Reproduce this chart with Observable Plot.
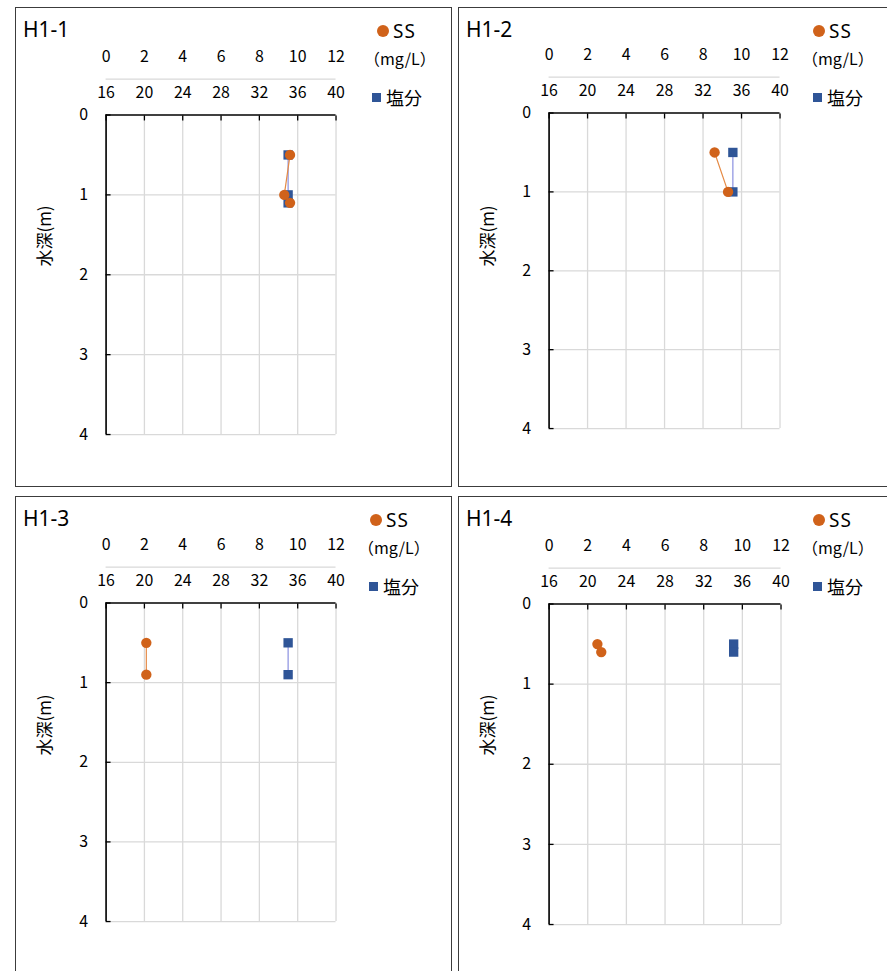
<!DOCTYPE html>
<html>
<head>
<meta charset="utf-8">
<script src="https://cdn.jsdelivr.net/npm/d3@7"></script>
<script src="https://cdn.jsdelivr.net/npm/@observablehq/plot@0.6"></script>
<style>
  body { margin: 0; background: #fff; }
  #root { position: relative; width: 887px; height: 971px; overflow: hidden; background: #fff;
          font-family: "Noto Sans CJK JP", "Noto Sans", sans-serif; color: #000; }
  .panel { position: absolute; width: 437px; height: 480px; box-sizing: border-box;
           border: 1px solid #3c3c3c; background: #fff; }
  .layer { position: absolute; left: -1px; top: -1px; }
  .abs { position: absolute; white-space: nowrap; }
</style>
</head>
<body>
<div id="root"></div>
<script>
// ---------- data ----------
const panelNames = ["H1-1", "H1-2", "H1-3", "H1-4"];

const depth1 = [0.5, 1.0, 1.1];
const ss1    = [9.6, 9.3, 9.6];
const sal1   = [35.0, 35.0, 35.0];

const depth2 = [0.5, 1.0];
const ss2    = [8.6, 9.3];
const sal2   = [35.1, 35.1];

const depth3 = [0.5, 0.9];
const ss3    = [2.1, 2.1];
const sal3   = [35.0, 35.0];

const depth4 = [0.5, 0.6];
const ss4    = [2.5, 2.7];
const sal4   = [35.1, 35.1];

const ssTicks    = [0, 2, 4, 6, 8, 10, 12];
const salTicks   = [16, 20, 24, 28, 32, 36, 40];
const depthTicks = [0, 1, 2, 3, 4];

const yLabel   = "水深(m)";
const ssName   = "SS";
const ssUnit   = "（mg/L）";
const salName  = "塩分";

// ---------- layout ----------
const FONT = '"Noto Sans CJK JP", "Noto Sans", sans-serif';
const ORANGE = "#D0621A", ORANGE_LINE = "#E58A45";
const BLUE = "#2F5597", BLUE_LINE = "#8A8FE0";
const GRID = "#d9d9d9";
const fmt = d => String(d);

const layout = [
  {left: 15,  top: 7,   mt: 108, mb: 51, mr: 115, lg: {cx: 367, mgx: 348, sqx: 360}},
  {left: 458, top: 7,   mt: 106, mb: 57, mr: 114, lg: {cx: 360, mgx: 343, sqx: 358}},
  {left: 15,  top: 496, mt: 107, mb: 53, mr: 115, lg: {cx: 360, mgx: 342, sqx: 357}},
  {left: 458, top: 496, mt: 108, mb: 50, mr: 113, lg: {cx: 360, mgx: 343, sqx: 358}}
];

const series = [
  {depth: depth1, ss: ss1, sal: sal1},
  {depth: depth2, ss: ss2, sal: sal2},
  {depth: depth3, ss: ss3, sal: sal3},
  {depth: depth4, ss: ss4, sal: sal4}
];

const root = document.getElementById("root");

function el(parent, cls, css, text) {
  const d = document.createElement("div");
  d.className = cls;
  Object.assign(d.style, css);
  if (text != null) d.textContent = text;
  parent.appendChild(d);
  return d;
}

panelNames.forEach((name, i) => {
  const L = layout[i];
  const S = series[i];
  const rows = S.depth.map((d, j) => ({depth: d, ss: S.ss[j], sal: S.sal[j]}));

  const panel = el(root, "panel", {left: L.left + "px", top: L.top + "px"});

  const common = {
    width: 437, height: 480,
    marginTop: L.mt, marginBottom: L.mb, marginLeft: 91, marginRight: L.mr,
    style: {fontFamily: FONT, fontSize: "16px", background: "transparent", color: "#000", overflow: "visible"}
  };

  // salinity layer (with grid & frame)
  const salPlot = Plot.plot({
    ...common,
    x: {domain: [16, 40], axis: null},
    y: {domain: [0, 4], reverse: true, axis: null},
    marks: [
      Plot.gridX(salTicks, {stroke: GRID, strokeOpacity: 1, strokeWidth: 1.3}),
      Plot.gridY(depthTicks.filter(d => d > 0), {stroke: GRID, strokeOpacity: 1, strokeWidth: 1.3}),
      Plot.axisX(salTicks, {anchor: "top", tickSize: 0, tickPadding: 17, label: null, tickFormat: fmt}),
      Plot.axisX(salTicks, {anchor: "top", tickSize: -5, text: null, label: null, strokeWidth: 1.3}),
      Plot.axisY(depthTicks, {anchor: "left", tickSize: 0, tickPadding: 18, label: null, tickFormat: fmt}),
      Plot.axisY(depthTicks, {anchor: "left", tickSize: -5, text: null, label: null, strokeWidth: 1.3}),
      Plot.ruleY([0], {stroke: "#000", strokeWidth: 1.6}),
      Plot.ruleX([16], {stroke: "#000", strokeWidth: 1.6}),
      Plot.line(rows, {x: "sal", y: "depth", stroke: BLUE_LINE, strokeWidth: 1.2}),
      Plot.dot(rows, {x: "sal", y: "depth", symbol: "square", r: 5.3, fill: BLUE, stroke: "none"})
    ]
  });
  salPlot.classList.add("layer");
  panel.appendChild(salPlot);

  // SS layer (secondary axis on top)
  const ssPlot = Plot.plot({
    ...common,
    x: {domain: [0, 12], axis: null},
    y: {domain: [0, 4], reverse: true, axis: null},
    marks: [
      Plot.ruleY([0], {dy: -36, stroke: GRID, strokeWidth: 1.3}),
      Plot.axisX(ssTicks, {anchor: "top", tickSize: 0, tickPadding: 53, label: null, tickFormat: fmt}),
      Plot.line(rows, {x: "ss", y: "depth", stroke: ORANGE_LINE, strokeWidth: 1.2}),
      Plot.dot(rows, {x: "ss", y: "depth", r: 5.2, fill: ORANGE, stroke: "none"})
    ]
  });
  ssPlot.classList.add("layer");
  panel.appendChild(ssPlot);

  // title
  el(panel, "abs", {left: "7px", top: "8px", fontSize: "21px", lineHeight: "26px", fontFamily: '"Noto Sans", sans-serif'}, name);

  // y label
  el(panel, "abs", {left: "28px", top: "228px", fontSize: "17px", lineHeight: "20px",
    transform: "translate(-50%,-50%) rotate(-90deg)"}, yLabel);

  // legend
  const g = L.lg;
  el(panel, "abs", {left: (g.cx - 6) + "px", top: "17px", width: "12px", height: "12px",
    borderRadius: "50%", background: ORANGE});
  el(panel, "abs", {left: (g.cx + 10) + "px", top: "10px", fontSize: "19px", lineHeight: "26px",
    fontFamily: '"Noto Sans", sans-serif', letterSpacing: "1px"}, ssName);
  el(panel, "abs", {left: g.mgx + "px", top: "39px", fontSize: "16px", lineHeight: "22px"}, ssUnit);
  el(panel, "abs", {left: (g.sqx - 4.5) + "px", top: "84.5px", width: "9px", height: "9px", background: BLUE});
  el(panel, "abs", {left: (g.sqx + 10) + "px", top: "78px", fontSize: "18px", lineHeight: "22px"}, salName);
});
</script>
</body>
</html>
